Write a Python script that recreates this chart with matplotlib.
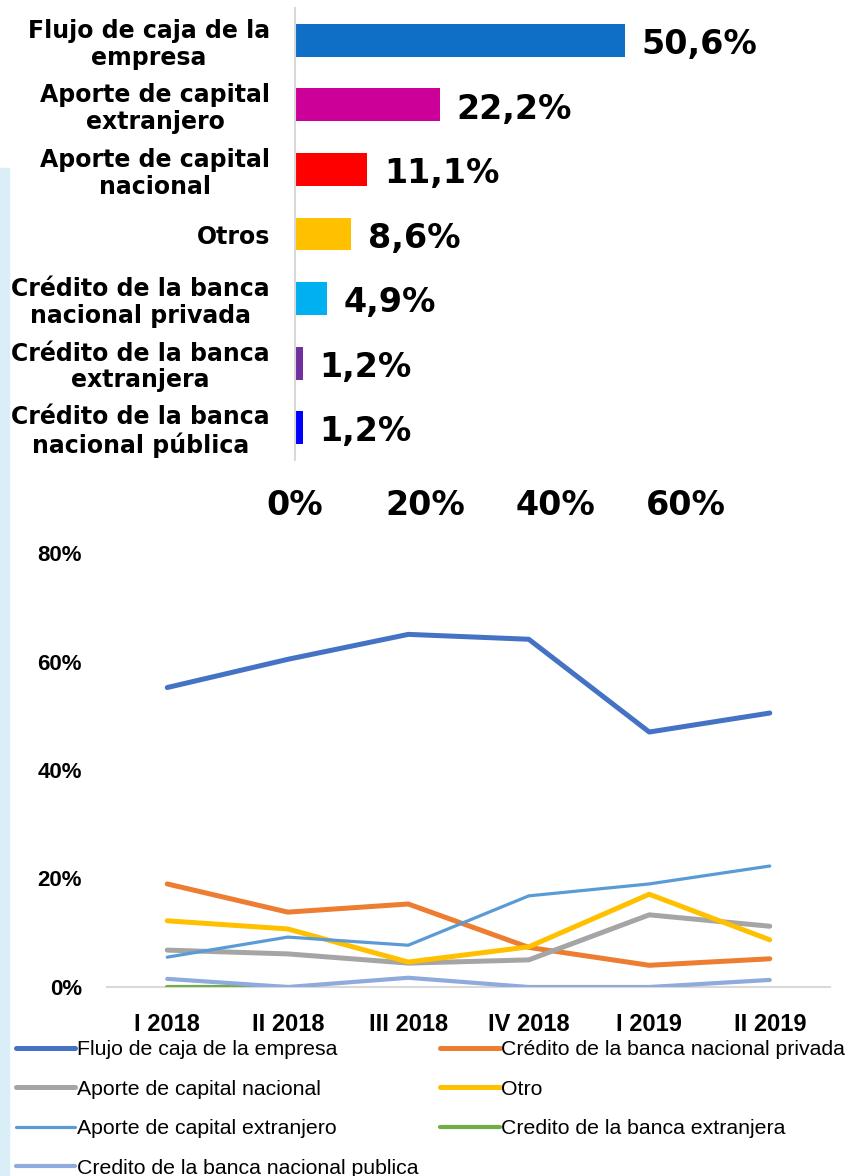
import numpy as np
import matplotlib
matplotlib.use('Agg')
import matplotlib.pyplot as plt
from matplotlib.patches import Rectangle

# top bar chart
bar_labels = ['Flujo de caja de la\nempresa', 'Aporte de capital\nextranjero',
              'Aporte de capital\nnacional', 'Otros',
              'Crédito de la banca\nnacional privada', 'Crédito de la banca\nextranjera',
              'Crédito de la banca\nnacional pública']
bar_values = [50.6, 22.2, 11.1, 8.6, 4.9, 1.2, 1.2]
bar_colors = ['#0F6FC6', '#CC0099', '#FF0000', '#FFC000', '#00B0F0', '#7030A0', '#0000FF']

# lower line chart
periods = ['I 2018', 'II 2018', 'III 2018', 'IV 2018', 'I 2019', 'II 2019']
flujo = [55.2, 60.4, 65.0, 64.1, 47.0, 50.5]
cred_privada = [19.0, 13.8, 15.3, 7.3, 4.0, 5.2]
aporte_nacional = [6.8, 6.1, 4.4, 5.0, 13.3, 11.2]
otro = [12.2, 10.7, 4.6, 7.4, 17.1, 8.7]
aporte_extranjero = [5.5, 9.2, 7.7, 16.8, 19.0, 22.3]
cred_extranjera = [0.0, 0.0, np.nan, np.nan, np.nan, np.nan]
cred_publica = [1.5, 0.0, 1.7, 0.0, 0.0, 1.3]

W, H = 854, 1176
fig = plt.figure(figsize=(W / 100, H / 100), dpi=100)
fig.patches.append(Rectangle((0, 0), 9 / W, (H - 168) / H, transform=fig.transFigure,
                             color='#DAEEF8', zorder=0))

# ---- bars ----
ax1 = fig.add_axes([295 / W, (H - 460) / H, (840 - 295) / W, (460 - 8) / H])
y = np.arange(len(bar_values))
ax1.barh(y, bar_values, height=0.51, color=bar_colors)
ax1.set_ylim(6.5, -0.5)
ax1.set_xlim(0, 83.6)
for yi, v in zip(y, bar_values):
    ax1.annotate(f'{v:.1f}%'.replace('.', ','), (v, yi), xytext=(12, -3),
                 textcoords='offset points', va='center', ha='left',
                 fontsize=24, fontweight='bold', family='DejaVu Sans')
ax1.set_yticks(y)
ax1.set_yticklabels(bar_labels, fontsize=17, fontweight='bold', family='DejaVu Sans',
                    linespacing=1.15)
for lbl in ax1.get_yticklabels():
    lbl.set_multialignment('center')
ax1.set_xticks([0, 20, 40, 60])
ax1.set_xticklabels(['0%', '20%', '40%', '60%'], fontsize=24, fontweight='bold',
                    family='DejaVu Sans')
ax1.tick_params(axis='both', length=0)
ax1.tick_params(axis='x', pad=21)
ax1.tick_params(axis='y', pad=18)
for s in ['top', 'right', 'bottom']:
    ax1.spines[s].set_visible(False)
ax1.spines['left'].set_color('#D9D9D9')
ax1.spines['left'].set_linewidth(1.5)

# ---- lines ----
ax2 = fig.add_axes([107 / W, (H - 987) / H, 723 / W, (987 - 553) / H])
x = np.arange(len(periods))
l_flujo, = ax2.plot(x, flujo, color='#4472C4', lw=3.6, solid_capstyle='round',
                    label='Flujo de caja de la empresa')
l_priv, = ax2.plot(x, cred_privada, color='#ED7D31', lw=3.6, solid_capstyle='round',
                   label='Crédito de la banca nacional privada')
l_nac, = ax2.plot(x, aporte_nacional, color='#A5A5A5', lw=3.6, solid_capstyle='round',
                  label='Aporte de capital nacional')
l_otro, = ax2.plot(x, otro, color='#FFC000', lw=3.6, solid_capstyle='round', label='Otro')
l_ext, = ax2.plot(x, aporte_extranjero, color='#5B9BD5', lw=2.3, solid_capstyle='round',
                  label='Aporte de capital extranjero')
l_cext, = ax2.plot(x, cred_extranjera, color='#70AD47', lw=3.0, solid_capstyle='round',
                   label='Credito de la banca extranjera')
l_pub, = ax2.plot(x, cred_publica, color='#8FAADC', lw=3.0, solid_capstyle='round',
                  label='Credito de la banca nacional publica')
ax2.set_xlim(-0.5, 5.5)
ax2.set_ylim(0, 80)
ax2.set_yticks([0, 20, 40, 60, 80])
ax2.set_yticklabels(['0%', '20%', '40%', '60%', '80%'], fontsize=16, fontweight='bold',
                    family='Liberation Sans')
ax2.set_xticks(x)
ax2.set_xticklabels(periods, fontsize=17, fontweight='bold', family='Liberation Sans')
ax2.tick_params(axis='both', length=0)
ax2.tick_params(axis='y', pad=18)
ax2.tick_params(axis='x', pad=19)
for s in ['top', 'right', 'left']:
    ax2.spines[s].set_visible(False)
ax2.spines['bottom'].set_color('#D9D9D9')
ax2.spines['bottom'].set_linewidth(1.5)
ax2.spines['bottom'].set_zorder(0)

handles = [l_flujo, l_nac, l_ext, l_pub, l_priv, l_otro, l_cext]
fig.legend(handles, [h.get_label() for h in handles], ncol=2, frameon=False,
           loc='upper left', bbox_to_anchor=(16 / W, 1 - 1040 / H),
           prop={'family': 'Liberation Sans', 'size': 15.3},
           handlelength=2.8, handletextpad=0.05, columnspacing=1.05,
           labelspacing=0.97, borderaxespad=0, borderpad=0)

fig.savefig('out.png', dpi=100)
